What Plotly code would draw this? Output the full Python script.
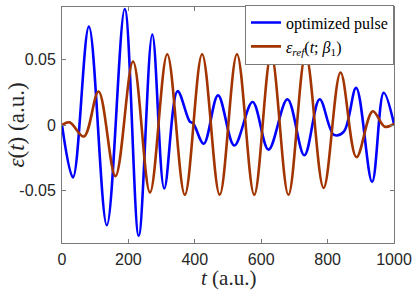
import plotly.graph_objects as go

# Optimized pulse: extrema / key points (t in a.u., epsilon in a.u.)
t_opt = [0, 33, 81, 135, 189, 231, 272, 308, 348, 385, 395, 427, 470, 519, 574, 622,
         679, 730, 776, 819, 849, 886, 934, 969, 1000]
e_opt = [0, -0.040, 0.075, -0.0765, 0.0885, -0.0845, 0.069, -0.0484, 0.0258, 0.0025,
         0.0013, -0.0143, 0.0226, -0.0156, 0.0175, -0.0188, 0.0196, -0.0231, 0.0196,
         -0.0075, -0.005, 0.0283, -0.0434, 0.0246, 0.0008]

# Reference pulse eps_ref(t; beta_1)
t_ref = [0, 23, 66, 110, 161, 214, 265, 317, 370, 422, 475, 527, 579, 630, 682, 734,
         788, 839, 887, 936, 972, 1000]
e_ref = [0, 0.002, -0.0088, 0.0256, -0.039, 0.0484, -0.0514, 0.054, -0.0532, 0.054,
         -0.0532, 0.054, -0.0532, 0.054, -0.0532, 0.054, -0.048, 0.040, -0.0246,
         0.0105, -0.0013, 0.0008]

x_ticks = [0, 200, 400, 600, 800, 1000]
y_ticks = [-0.05, 0, 0.05]
y_tick_labels = ["-0.05", "0", "0.05"]

BLUE = "#0000ff"
BROWN = "#a23400"
AXC = "#7a7a7a"
TXT = "#262626"
SERIF = "Liberation Serif, Times New Roman, serif"
SANS = "Liberation Sans, Arial, sans-serif"

fig = go.Figure()
fig.add_trace(go.Scatter(x=t_opt, y=e_opt, mode="lines", name="optimized pulse",
                         line=dict(color=BLUE, width=2.6, shape="spline", smoothing=1.0)))
fig.add_trace(go.Scatter(x=t_ref, y=e_ref, mode="lines",
                         name="<i>ε<sub>ref</sub></i>(<i>t</i>; <i>β</i><sub>1</sub>)",
                         line=dict(color=BROWN, width=2.6, shape="spline", smoothing=1.0)))

axis_common = dict(showline=True, linecolor=AXC, linewidth=1, mirror="ticks",
                   ticks="inside", ticklen=4, tickcolor=AXC, showgrid=False,
                   zeroline=False, automargin=False,
                   tickfont=dict(family=SANS, size=16, color=TXT))

fig.update_xaxes(range=[0, 1000], tickvals=x_ticks, ticklabelstandoff=2, **axis_common)
fig.update_yaxes(range=[-0.09, 0.09], tickvals=y_ticks, ticktext=y_tick_labels,
                 ticklabelstandoff=2, **axis_common)

fig.add_annotation(text="<i>t</i> (a.u.)", xref="paper", yref="paper",
                   x=0.5, y=-0.15, xanchor="center", yanchor="middle", showarrow=False,
                   font=dict(family=SERIF, size=21, color=TXT))
fig.add_annotation(text="<i>ε</i>(<i>t</i>) (a.u.)", xref="paper", yref="paper",
                   x=-0.14, y=0.5, xanchor="center", yanchor="middle", showarrow=False,
                   textangle=-90, font=dict(family=SERIF, size=23, color=TXT))

fig.update_layout(
    width=415, height=292,
    margin=dict(l=62, r=21, t=5, b=49),
    plot_bgcolor="white", paper_bgcolor="white",
    showlegend=True,
    legend=dict(x=1, y=1.01, xanchor="right", yanchor="top",
                bgcolor="white", bordercolor=AXC, borderwidth=1,
                font=dict(family=SERIF, size=16, color="#000000"),
                tracegroupgap=0, itemwidth=30, entrywidth=120, entrywidthmode="pixels"),
)

fig.write_html("out.html", config={"displayModeBar": False},
               post_script="document.body.style.margin='0';")
